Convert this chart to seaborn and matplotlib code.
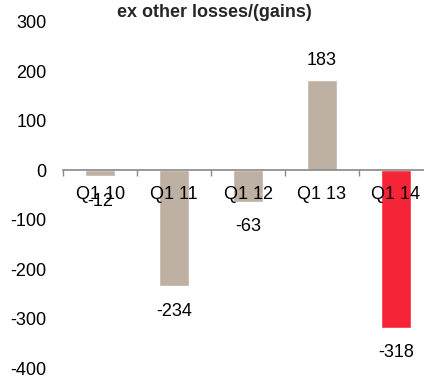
import matplotlib as mpl
import matplotlib.pyplot as plt
import pandas as pd
import seaborn as sns

QUARTERS = ["Q1 10", "Q1 11", "Q1 12", "Q1 13", "Q1 14"]
VALUES = [-12, -234, -63, 183, -318]
BAR_COLORS = ["#BEB0A2", "#BEB0A2", "#BEB0A2", "#BEB0A2", "#F52537"]
Y_TICKS = [300, 200, 100, 0, -100, -200, -300, -400]
TITLE = "ex other losses/(gains)"

sns.set_theme(style="white")
mpl.rcParams["font.family"] = ["Liberation Sans", "DejaVu Sans"]

df = pd.DataFrame({"quarter": QUARTERS, "value": VALUES})

fig = plt.figure(figsize=(4.24, 3.76), dpi=100)
ax = fig.add_axes([0.149, 0.02, 0.872, 0.922])

sns.barplot(data=df, x="quarter", y="value", hue="quarter", palette=BAR_COLORS,
            width=0.4, legend=False, saturation=1, ax=ax)

ax.set_xlim(-0.5, 4.5)
ax.set_ylim(-400, 300)
ax.set_yticks(Y_TICKS)
ax.set_yticklabels([str(v) for v in Y_TICKS])
ax.set_xlabel("")
ax.set_ylabel("")
# tick labels and the zero line sit on top of the bars
ax.set_axisbelow(False)

for s in ["left", "top", "right"]:
    ax.spines[s].set_visible(False)
ax.spines["bottom"].set_position(("data", 0))
ax.spines["bottom"].set_color("#888888")
ax.spines["bottom"].set_linewidth(1.2)
ax.spines["bottom"].set_zorder(3)

ax.set_xticks([i - 0.5 for i in range(6)], minor=True)
ax.tick_params(axis="x", which="minor", bottom=True, length=4, width=1.0, color="#888888", direction="out")
ax.tick_params(axis="x", which="major", length=0, pad=11, labelsize=13, colors="black")
ax.tick_params(axis="y", length=0, pad=12, labelsize=13, colors="black")

for i, v in enumerate(VALUES):
    off = 14 if v > 0 else -18
    ax.annotate(str(v), (i, v), xytext=(0, off), textcoords="offset points",
                ha="center", va="center", fontsize=13, color="black", zorder=4)

fig.text(0.505, 0.99, TITLE, ha="center", va="top", fontsize=13, fontweight="bold")

fig.savefig("out.png", dpi=100, facecolor="white")
